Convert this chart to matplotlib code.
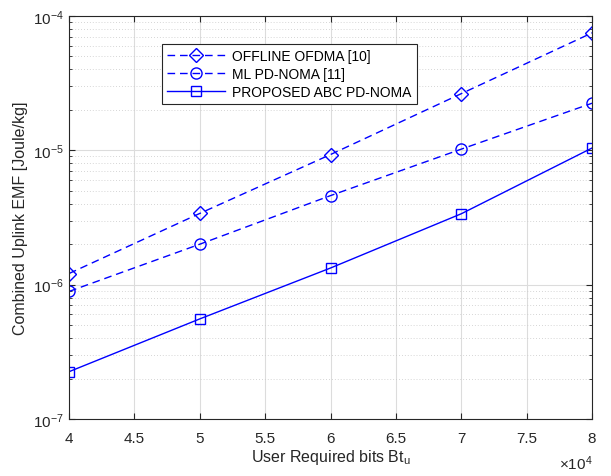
import matplotlib
matplotlib.use("Agg")
import matplotlib.pyplot as plt
from matplotlib.ticker import LogLocator, NullFormatter, FixedLocator

plt.rcParams['font.family'] = ['Liberation Sans', 'DejaVu Sans']
plt.rcParams['mathtext.fontset'] = 'custom'
plt.rcParams['mathtext.rm'] = 'Liberation Sans'
plt.rcParams['mathtext.it'] = 'Liberation Sans'

bits = [40000, 50000, 60000, 70000, 80000]
offline_ofdma = [1.21e-6, 3.39e-6, 9.3e-6, 2.64e-5, 7.48e-5]
ml_pdnoma = [8.9e-7, 2.0e-6, 4.6e-6, 1.02e-5, 2.24e-5]
proposed_abc = [2.25e-7, 5.56e-7, 1.33e-6, 3.37e-6, 1.04e-5]
labels = ['OFFLINE OFDMA [10]', 'ML PD-NOMA [11]', 'PROPOSED ABC PD-NOMA']
xticks = [40000, 45000, 50000, 55000, 60000, 65000, 70000, 75000, 80000]
xticklabels = ['4', '4.5', '5', '5.5', '6', '6.5', '7', '7.5', '8']

fig = plt.figure(figsize=(6.11, 4.77), dpi=100)
ax = fig.add_axes([0.113, 0.1195, 0.856, 0.845])

blue = (0, 0, 1)
ax.plot(bits, offline_ofdma, color=blue, ls=(0, (5.5, 3.5)), lw=1, marker='D',
        ms=7, mfc='none', mew=1, label=labels[0])
ax.plot(bits, ml_pdnoma, color=blue, ls=(0, (5.5, 3.5)), lw=1, marker='o',
        ms=8, mfc='none', mew=1, label=labels[1])
ax.plot(bits, proposed_abc, color=blue, ls='-', lw=1, marker='s',
        ms=7, mfc='none', mew=1, label=labels[2])

ax.set_yscale('log')
ax.set_ylim(1e-7, 1e-4)
ax.set_xlim(40000, 80000)
ax.xaxis.set_major_locator(FixedLocator(xticks))
ax.set_xticklabels(xticklabels)
ax.yaxis.set_major_locator(LogLocator(base=10, numticks=10))
ax.yaxis.set_minor_locator(LogLocator(base=10, subs=range(2, 10), numticks=20))
ax.yaxis.set_minor_formatter(NullFormatter())

ax.grid(True, which='major', color='#dcdcdc', lw=0.8, ls='-')
ax.grid(True, which='minor', axis='y', color='#c8c8c8', lw=0.6, ls=(0, (1, 2.5)))
ax.set_axisbelow(True)

ax.tick_params(which='both', direction='in', top=True, right=True, labelsize=11,
               color='#262626', labelcolor='#262626')
ax.tick_params(which='major', length=4)
ax.tick_params(which='minor', length=2.5)
ax.tick_params(axis='x', pad=9)
for s in ax.spines.values():
    s.set_color('#262626')
    s.set_linewidth(0.8)

ax.set_xlabel('User Required bits Bt$_{\\mathregular{u}}$', fontsize=11.5, color='#262626', labelpad=1)
ax.set_ylabel('Combined Uplink EMF [Joule/kg]', fontsize=11.5, color='#262626', labelpad=4)
ax.text(1.0, -0.085, '$\\times$10$^{4}$', transform=ax.transAxes, ha='right', va='top',
        fontsize=11, color='#262626')

leg = ax.legend(loc='upper left', bbox_to_anchor=(0.178, 0.93), fontsize=10,
                frameon=True, fancybox=False, edgecolor='#262626', framealpha=1,
                handlelength=4.2, borderpad=0.35, labelspacing=0.3, handletextpad=0.5,
                borderaxespad=0)
leg.get_frame().set_linewidth(0.8)

fig.savefig('out.png', dpi=100)
